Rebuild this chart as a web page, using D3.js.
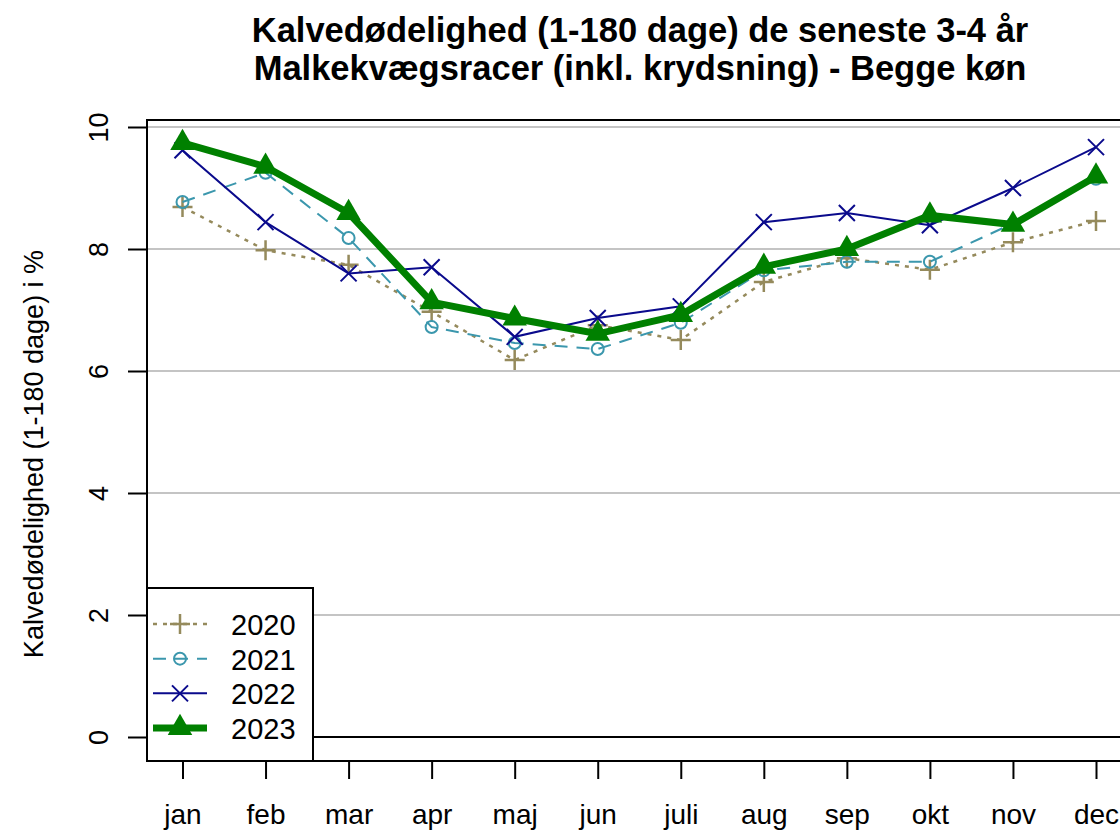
<!DOCTYPE html>
<html>
<head>
<meta charset="utf-8">
<script src="https://cdn.jsdelivr.net/npm/d3@7"></script>
<style>
  body { margin: 0; background: #fff; }
  text { font-family: "Liberation Sans", Arial, sans-serif; }
</style>
</head>
<body>
<div id="container"></div>
<script>
//svg size
const w = 1120
const h = 830

//data
const months = ['jan', 'feb', 'mar', 'apr', 'maj', 'jun', 'juli', 'aug', 'sep', 'okt', 'nov', 'dec']
const years = ['2020', '2021', '2022', '2023']
const v2020 = [8.69, 7.98, 7.74, 6.97, 6.18, 6.75, 6.51, 7.46, 7.85, 7.66, 8.11, 8.46]
const v2021 = [8.77, 9.25, 8.18, 6.72, 6.46, 6.36, 6.79, 7.65, 7.79, 7.79, 8.42, 9.15]
const v2022 = [9.62, 8.44, 7.6, 7.7, 6.56, 6.87, 7.06, 8.44, 8.59, 8.39, 9.0, 9.67]
const v2023 = [9.74, 9.35, 8.59, 7.13, 6.86, 6.61, 6.92, 7.71, 8.0, 8.55, 8.4, 9.19]
const yTicks = [0, 2, 4, 6, 8, 10]

const series = [
  { name: years[0], values: v2020, color: '#958a5c', width: 2.5, dash: '4,6', marker: 'plus' },
  { name: years[1], values: v2021, color: '#3b97ad', width: 2, dash: '13,9', marker: 'circle' },
  { name: years[2], values: v2022, color: '#0a0a8c', width: 2, dash: null, marker: 'cross' },
  { name: years[3], values: v2023, color: '#008000', width: 7, dash: null, marker: 'triangle' }
]

//plot box
const box = { left: 147, top: 120, right: 1133, bottom: 761 }

const x = d3.scalePoint()
  .domain(months)
  .range([182.5, 1096])

const y = d3.scaleLinear()
  .domain([0, 10])
  .range([737, 127])

const svg = d3.select('#container')
  .append('svg')
  .attr('width', w)
  .attr('height', h)

//title
const title = svg.append('text')
  .attr('text-anchor', 'middle')
  .attr('font-weight', 'bold')
  .attr('font-size', 34.5)
title.append('tspan').attr('x', 640).attr('y', 42).text('Kalvedødelighed (1-180 dage) de seneste 3-4 år')
title.append('tspan').attr('x', 640).attr('y', 80).text('Malkekvægsracer (inkl. krydsning) - Begge køn')

//grid
svg.append('g')
  .selectAll('line')
  .data(yTicks)
  .enter()
  .append('line')
  .attr('x1', box.left)
  .attr('x2', box.right)
  .attr('y1', d => y(d))
  .attr('y2', d => y(d))
  .attr('stroke', d => d === 0 ? '#000' : '#c4c4c4')
  .attr('stroke-width', 2)

//axes
const yAxis = svg.append('g')
  .attr('transform', 'translate(' + box.left + ',0)')
  .call(d3.axisLeft(y).tickValues(yTicks).tickSize(19).tickPadding(0).tickFormat(d3.format('d')))
yAxis.select('.domain').remove()
yAxis.selectAll('.tick line').attr('stroke', '#000').attr('stroke-width', 2)
yAxis.selectAll('.tick text')
  .attr('font-size', 27)
  .attr('fill', '#000')
  .attr('text-anchor', 'middle')
  .attr('x', 0)
  .attr('dy', 0)
  .attr('transform', 'translate(-48,0) rotate(-90) translate(0,9)')

const xAxis = svg.append('g')
  .attr('transform', 'translate(0,' + box.bottom + ')')
  .call(d3.axisBottom(x).tickSize(18).tickPadding(0))
xAxis.select('.domain').remove()
xAxis.selectAll('.tick line').attr('stroke', '#000').attr('stroke-width', 2)
xAxis.selectAll('.tick text')
  .attr('font-size', 28)
  .attr('fill', '#000')
  .attr('y', 63)
  .attr('dy', 0)

//y axis title
svg.append('text')
  .attr('transform', 'translate(43,454) rotate(-90)')
  .attr('text-anchor', 'middle')
  .attr('font-size', 27)
  .text('Kalvedødelighed (1-180 dage) i %')

//markers
function drawMarker(g, type, cx, cy, color) {
  if (type === 'plus') {
    g.append('path')
      .attr('d', 'M' + (cx - 10) + ',' + cy + 'H' + (cx + 10) + 'M' + cx + ',' + (cy - 10) + 'V' + (cy + 10))
      .attr('stroke', color).attr('stroke-width', 2.5).attr('fill', 'none')
  } else if (type === 'circle') {
    g.append('circle')
      .attr('cx', cx).attr('cy', cy).attr('r', 6)
      .attr('stroke', color).attr('stroke-width', 2).attr('fill', 'none')
  } else if (type === 'cross') {
    g.append('path')
      .attr('d', 'M' + (cx - 8) + ',' + (cy - 8) + 'L' + (cx + 8) + ',' + (cy + 8) + 'M' + (cx - 8) + ',' + (cy + 8) + 'L' + (cx + 8) + ',' + (cy - 8))
      .attr('stroke', color).attr('stroke-width', 2).attr('fill', 'none')
  } else {
    g.append('path')
      .attr('d', d3.symbol(d3.symbolTriangle, 260)())
      .attr('transform', 'translate(' + cx + ',' + cy + ')')
      .attr('fill', color)
  }
}

//lines
const line = d3.line()
  .x((d, i) => x(months[i]))
  .y(d => y(d))

const plot = svg.append('g')
series.forEach(s => {
  plot.append('path')
    .datum(s.values)
    .attr('d', line)
    .attr('fill', 'none')
    .attr('stroke', s.color)
    .attr('stroke-width', s.width)
    .attr('stroke-dasharray', s.dash)
  const mg = plot.append('g')
  s.values.forEach((v, i) => drawMarker(mg, s.marker, x(months[i]), y(v), s.color))
})

//plot box
svg.append('rect')
  .attr('x', box.left)
  .attr('y', box.top)
  .attr('width', box.right - box.left)
  .attr('height', box.bottom - box.top)
  .attr('fill', 'none')
  .attr('stroke', '#000')
  .attr('stroke-width', 2)

//legend
const legend = svg.append('g')
legend.append('rect')
  .attr('x', box.left)
  .attr('y', 588)
  .attr('width', 166)
  .attr('height', box.bottom - 588)
  .attr('fill', '#fff')
  .attr('stroke', '#000')
  .attr('stroke-width', 2)

const legendY = d3.scalePoint()
  .domain(years)
  .range([624, 728])

series.forEach(s => {
  const ly = legendY(s.name)
  legend.append('line')
    .attr('x1', 153)
    .attr('x2', 207)
    .attr('y1', ly)
    .attr('y2', ly)
    .attr('stroke', s.color)
    .attr('stroke-width', s.width)
    .attr('stroke-dasharray', s.dash)
  drawMarker(legend, s.marker, 180, ly, s.color)
  legend.append('text')
    .attr('x', 231)
    .attr('y', ly + 11)
    .attr('font-size', 29)
    .text(s.name)
})
</script>
</body>
</html>
